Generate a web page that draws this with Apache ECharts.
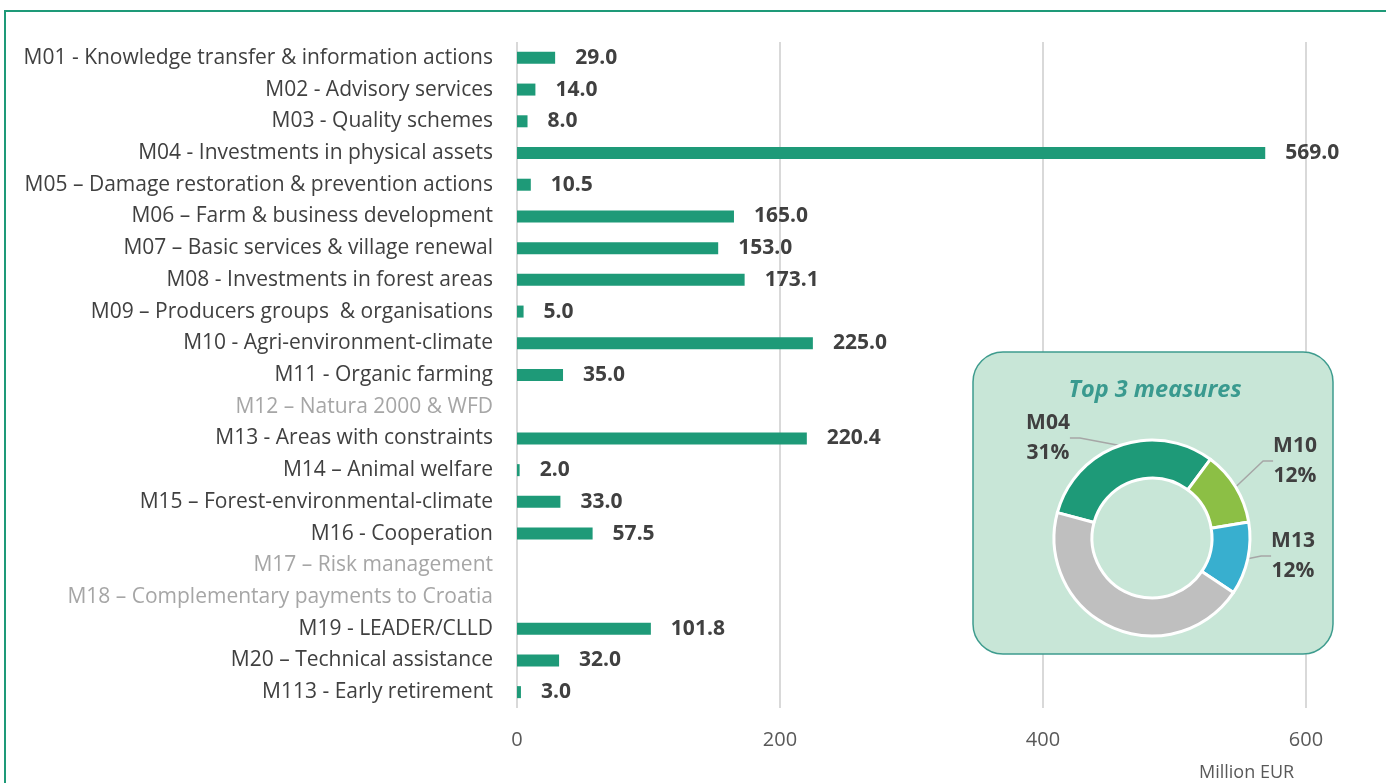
<!DOCTYPE html>
<html>
  <head>
    <meta charset="utf-8" />
    <title>RDP measures - Million EUR</title>
    <style>
      html, body { margin: 0; padding: 0; background: #fff; }
      #chart { width: 1386px; height: 783px; }
    </style>
  </head>
  <body>
    <script type="text/javascript" src="https://cdn.jsdelivr.net/npm/echarts@6/dist/echarts.min.js"></script>
    <div id="chart"></div>
    <script type="text/javascript">
      var measures = [
        "M01 - Knowledge transfer & information actions",
        "M02 - Advisory services",
        "M03 - Quality schemes",
        "M04 - Investments in physical assets",
        "M05 – Damage restoration & prevention actions",
        "M06 – Farm & business development",
        "M07 – Basic services & village renewal",
        "M08 - Investments in forest areas",
        "M09 – Producers groups  & organisations",
        "M10 - Agri-environment-climate",
        "M11 - Organic farming",
        "M12 – Natura 2000 & WFD",
        "M13 - Areas with constraints",
        "M14 – Animal welfare",
        "M15 – Forest-environmental-climate",
        "M16 - Cooperation",
        "M17 – Risk management",
        "M18 – Complementary payments to Croatia",
        "M19 - LEADER/CLLD",
        "M20 – Technical assistance",
        "M113 - Early retirement"
      ];
      var amounts = [29.0, 14.0, 8.0, 569.0, 10.5, 165.0, 153.0, 173.1, 5.0, 225.0, 35.0,
        null, 220.4, 2.0, 33.0, 57.5, null, null, 101.8, 32.0, 3.0];
      var xTicks = [0, 200, 400, 600];

      var topNames = ["M04", "M10", "M13"];
      var pieColors = ["#1e9a78", "#8cbf45", "#38afcf", "#bfbfbf"];

      var dom = document.getElementById("chart");
      var myChart = echarts.init(dom);

      var catData = measures.map(function (m, i) {
        return {
          value: m,
          textStyle: { color: amounts[i] == null ? "#a6a6a6" : "#404040" }
        };
      });

      // pie: top 3 measures vs the rest
      var pieData = [];
      var restSum = 0;
      measures.forEach(function (m, i) {
        var code = m.split(" ")[0];
        if (topNames.indexOf(code) >= 0) pieData.push({ name: code, value: amounts[i] });
        else if (amounts[i] != null) restSum += amounts[i];
      });
      pieData.push({ name: "Other", value: restSum, label: { show: false }, labelLine: { show: false } });

      var labelPos = { M04: [1048, 438], M10: [1295, 461], M13: [1293, 556] };

      var option = {
        animation: false,
        textStyle: { fontFamily: "Open Sans" },
        grid: { left: 517, right: 80, top: 42, bottom: 75 },
        xAxis: {
          type: "value",
          min: xTicks[0],
          max: xTicks[xTicks.length - 1],
          interval: xTicks[1] - xTicks[0],
          axisLine: { show: false },
          axisTick: { show: false },
          axisLabel: { color: "#595959", fontSize: 20, margin: 22 },
          splitLine: { lineStyle: { color: "#d9d9d9", width: 2 } }
        },
        yAxis: {
          type: "category",
          inverse: true,
          data: catData,
          axisLine: { show: false },
          axisTick: { show: false },
          axisLabel: { fontSize: 21, margin: 24, color: "#404040" }
        },
        graphic: [
          {
            type: "rect",
            z: -10,
            shape: { x: 5, y: 11, width: 1400, height: 800 },
            style: { fill: "none", stroke: "#1e9a78", lineWidth: 2 }
          },
          {
            type: "rect",
            z: 5,
            shape: { x: 973, y: 352, width: 360, height: 302, r: 30 },
            style: { fill: "#c8e6d7", stroke: "#3e9c8e", lineWidth: 1.5 }
          },
          {
            type: "text",
            z: 6,
            x: 1155,
            y: 390,
            style: {
              text: "Top 3 measures",
              fill: "#3a9a8f",
              font: "italic bold 23.5px 'Open Sans'",
              align: "center",
              verticalAlign: "middle"
            }
          },
          {
            type: "text",
            x: 1199,
            y: 773,
            style: {
              text: "Million EUR",
              fill: "#595959",
              font: "18px 'Open Sans'",
              align: "left",
              verticalAlign: "middle"
            }
          }
        ],
        series: [
          {
            type: "bar",
            data: amounts,
            barWidth: 12,
            itemStyle: { color: "#1e9a78" },
            label: {
              show: true,
              position: "right",
              distance: 20,
              color: "#404040",
              fontWeight: "bold",
              fontSize: 21,
              formatter: function (p) {
                return p.value == null ? "" : p.value.toFixed(1);
              }
            }
          },
          {
            type: "pie",
            z: 10,
            center: [1152, 538],
            radius: [60, 98],
            startAngle: 165,
            percentPrecision: 0,
            data: pieData,
            color: pieColors,
            itemStyle: { borderColor: "#fff", borderWidth: 3 },
            label: {
              show: true,
              position: "outside",
              formatter: "{b}\n{d}%",
              color: "#404040",
              fontWeight: "bold",
              fontSize: 21,
              lineHeight: 30,
              align: "center"
            },
            labelLine: { show: true, lineStyle: { color: "#a6a6a6", width: 1.5 }, length: 10, length2: 10 },
            labelLayout: function (params) {
              var p = labelPos[pieData[params.dataIndex].name];
              if (!p) return {};
              return { x: p[0], y: p[1], align: "center", verticalAlign: "middle" };
            },
            emphasis: { disabled: true }
          }
        ]
      };

      myChart.setOption(option);

      window.addEventListener("resize", function () {
        myChart.resize();
      });
    </script>
  </body>
</html>
